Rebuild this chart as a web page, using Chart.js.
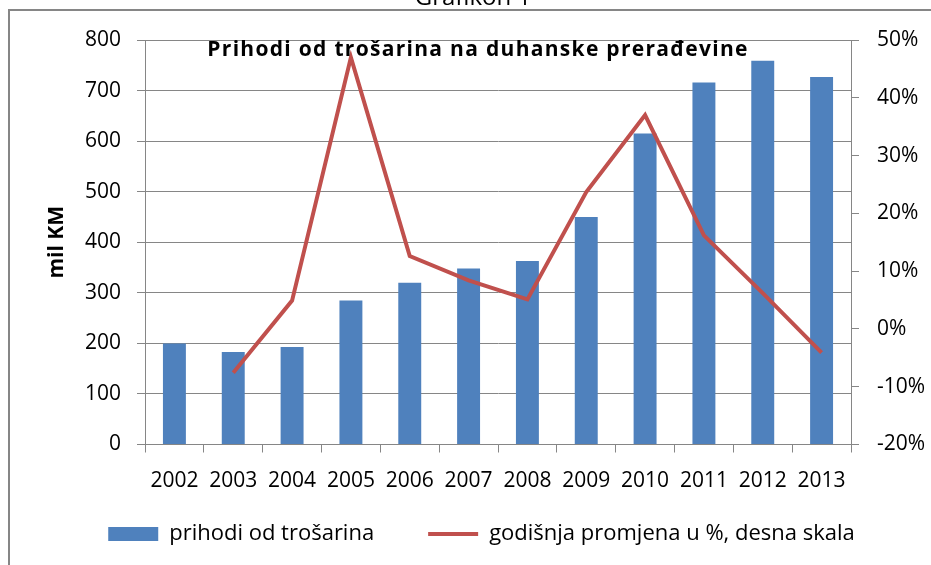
<!DOCTYPE html>
<html>
<head>
<meta charset="utf-8">
<script src="https://cdn.jsdelivr.net/npm/chart.js@4"></script>
<style>
    html, body { margin: 0; padding: 0; background: #fff; }
    #wrap { width: 931px; height: 565px; }
</style>
</head>
<body>
<div id="wrap"><canvas id="myChart" width="931" height="565"></canvas></div>
<script>
// godine (X os)
const godine = ['2002', '2003', '2004', '2005', '2006', '2007', '2008', '2009', '2010', '2011', '2012', '2013'];
// prihodi od trošarina, mil KM (lijeva skala)
const prihodi = [200, 183, 193, 285, 320, 348, 363, 450, 615, 716, 759, 727];
// godišnja promjena u % (desna skala)
const promjena = [null, -7.6, 4.9, 47, 12.6, 8.4, 5.1, 23.7, 37, 16.2, 6.2, -4.1];

const naslov = 'Prihodi od trošarina na duhanske prerađevine';
const font = '"Open Sans", "DejaVu Sans", sans-serif';
const sivo = '#868686';

// okvir, "Grafikon 1" i naslov unutar grafa
const okvir = {
    id: 'okvir',
    afterLayout(chart) {
        // legenda malo više, bliže osi
        const lg = chart.legend;
        const h = lg.height;
        lg.top = 469;
        lg.bottom = 469 + h;
    },
    beforeDraw(chart) {
        const ctx = chart.ctx;
        ctx.save();
        ctx.fillStyle = '#fff';
        ctx.fillRect(0, 0, chart.width, chart.height);
        ctx.strokeStyle = sivo;
        ctx.lineWidth = 2;
        ctx.strokeRect(9, 10, 980, 600);
        ctx.fillStyle = '#000';
        ctx.font = '24px ' + font;
        ctx.textAlign = 'center';
        ctx.textBaseline = 'alphabetic';
        ctx.fillText('Grafikon 1', 473, 5);
        ctx.restore();
    },
    afterDraw(chart) {
        const ctx = chart.ctx;
        ctx.save();
        ctx.fillStyle = '#000';
        ctx.font = 'bold 21px ' + font;
        ctx.letterSpacing = '1.3px';
        ctx.textAlign = 'center';
        ctx.textBaseline = 'middle';
        ctx.fillText(naslov, 478, 50);
        ctx.restore();
    }
};

const data = {
    labels: godine,
    datasets: [
        {
            type: 'bar',
            label: 'prihodi od trošarina',
            data: prihodi,
            backgroundColor: '#4F81BD',
            borderWidth: 0,
            barPercentage: 0.39,
            categoryPercentage: 1,
            pointStyle: 'rect',
            yAxisID: 'y',
            order: 1
        },
        {
            type: 'line',
            label: 'godišnja promjena u %, desna skala',
            data: promjena,
            borderColor: '#C0504D',
            backgroundColor: '#C0504D',
            borderWidth: 4,
            pointRadius: 0,
            tension: 0,
            pointStyle: 'line',
            yAxisID: 'y1',
            order: 0
        }
    ]
};

const config = {
    type: 'bar',
    data: data,
    options: {
        responsive: false,
        animation: false,
        devicePixelRatio: 1,
        layout: { padding: { top: 40, left: 32, right: 0, bottom: -13.5 } },
        plugins: {
            title: { display: false },
            tooltip: { enabled: false },
            legend: {
                position: 'bottom',
                labels: {
                    usePointStyle: true,
                    pointStyleWidth: 50,
                    boxHeight: 14,
                    padding: 54,
                    color: '#000',
                    font: { family: font, size: 22 },
                    sort: (a, b) => a.datasetIndex - b.datasetIndex
                }
            }
        },
        scales: {
            x: {
                grid: { drawOnChartArea: false, drawTicks: true, tickLength: 8, color: sivo, offset: true },
                border: { color: sivo, width: 1 },
                ticks: { color: '#000', font: { family: font, size: 21 }, padding: 16, maxRotation: 0 },
                afterFit: (s) => { s.height = 48; }
            },
            y: {
                position: 'left',
                min: 0,
                max: 800,
                ticks: { stepSize: 100, color: '#000', font: { family: font, size: 21 }, padding: 16 },
                grid: { color: sivo, tickLength: 8 },
                border: { color: sivo },
                title: {
                    display: true,
                    text: 'mil KM',
                    color: '#000',
                    font: { family: font, size: 21, weight: 'bold' },
                    padding: { top: 12, bottom: 0 }
                },
                afterFit: (s) => { s.width = 113; }
            },
            y1: {
                position: 'right',
                min: -20,
                max: 50,
                ticks: {
                    stepSize: 10,
                    color: '#000',
                    font: { family: font, size: 21 },
                    padding: 18,
                    callback: (v) => v + '%'
                },
                grid: { drawOnChartArea: false, color: sivo, tickLength: 8 },
                border: { color: sivo },
                afterFit: (s) => { s.width = 80; }
            }
        }
    },
    plugins: [okvir]
};

const ctx = document.getElementById('myChart');
const chart = new Chart(ctx, config);
</script>
</body>
</html>
